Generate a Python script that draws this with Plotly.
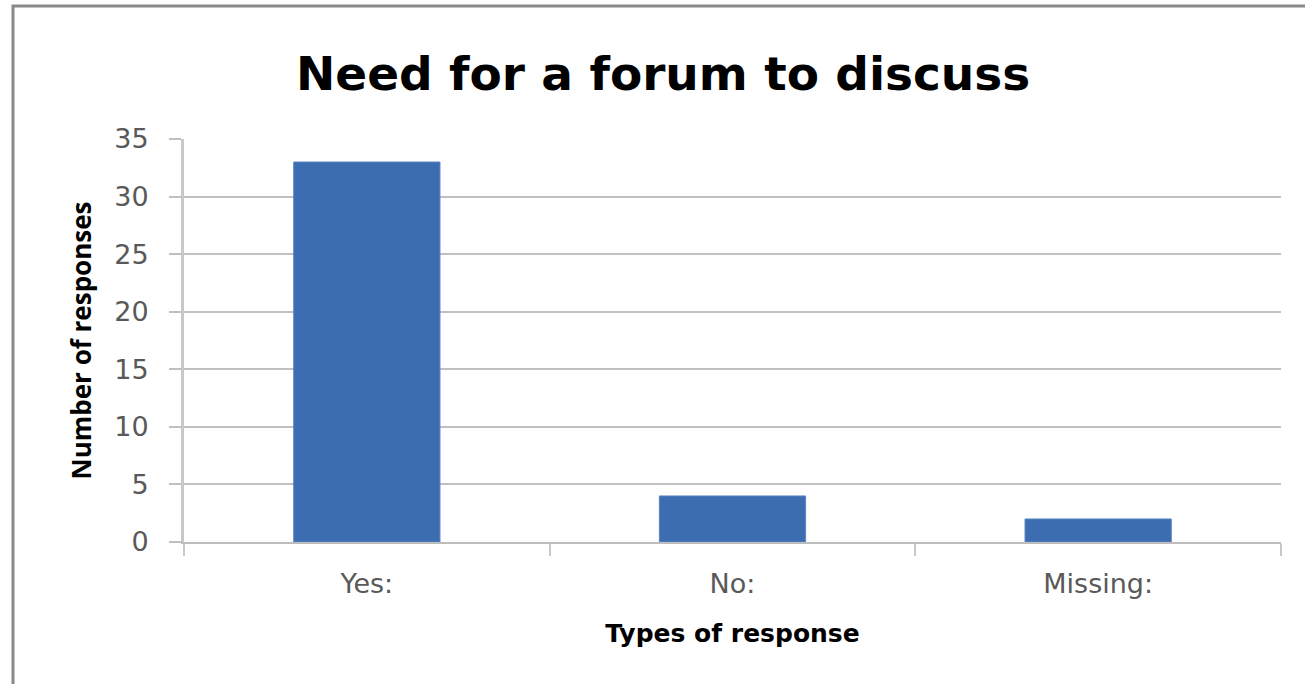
import plotly.graph_objects as go

categories = ["Yes:", "No:", "Missing:"]
values = [33, 4, 2]
y_ticks = [0, 5, 10, 15, 20, 25, 30, 35]

W, H = 1305, 684
L, R, T, B = 184, 24, 139, 142
pw, ph = W - L - R, H - T - B

fig = go.Figure(go.Bar(
    x=categories, y=values,
    marker=dict(color="#3C6DB0", line=dict(color="#5A86C2", width=1)),
))

fig.update_layout(
    width=W, height=H,
    margin=dict(l=L, r=R, t=T, b=B),
    paper_bgcolor="white", plot_bgcolor="white",
    bargap=0.6,
    showlegend=False,
    font=dict(family="DejaVu Sans", color="#595959"),
    xaxis=dict(
        type="category",
        showline=True, linecolor="#BDBDBD", linewidth=2,
        ticks="outside", tickson="boundaries", ticklen=12, tickwidth=2, tickcolor="#C8C8C8",
        tickfont=dict(size=27, color="#595959"),
        ticklabelstandoff=17,
        title=dict(text="<b>Types of response</b>", font=dict(size=25, color="#000000"), standoff=26),
        showgrid=False,
    ),
    yaxis=dict(
        range=[0, 35], tickvals=y_ticks,
        showline=True, linecolor="#C8C8C8", linewidth=3,
        showgrid=True, gridcolor="#C0C0C0", gridwidth=2,
        ticks="outside", ticklen=12, tickwidth=2, tickcolor="#C0C0C0",
        tickfont=dict(size=27, color="#595959"),
        ticklabelstandoff=15,
        zeroline=False,
        title=dict(text="<b>Number of responses</b>", font=dict(size=26, color="#000000", family="Open Sans"), standoff=16),
    ),
)

fig.add_annotation(
    text="<b>Need for a forum to discuss</b>",
    xref="paper", yref="paper",
    x=(663 - L) / pw, y=(H - B - 73) / ph,
    xanchor="center", yanchor="middle",
    showarrow=False,
    font=dict(size=47, color="#000000", family="DejaVu Sans"),
)

# outer frame of the chart
fig.add_shape(
    type="rect", xref="paper", yref="paper",
    x0=(13 - L) / pw, x1=(W + 20 - L) / pw,
    y0=(H - B - (H + 20)) / ph, y1=(H - B - 6) / ph,
    line=dict(color="#8A8A8A", width=3),
    fillcolor="rgba(0,0,0,0)",
    layer="below",
)

fig.write_html("out.html")
